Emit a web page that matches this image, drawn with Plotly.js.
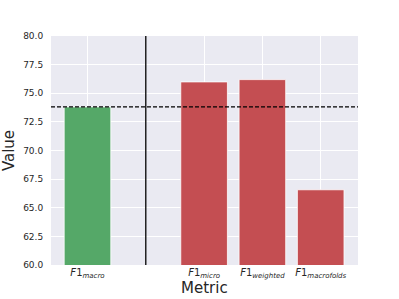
<!DOCTYPE html>
<html>
<head>
<script src="https://cdn.plot.ly/plotly-3.0.1.min.js"></script>
<style>html,body{margin:0;padding:0;background:#fff;}</style>
</head>
<body>
<div id="chart" style="width:399px;height:299px;"></div>
<script>
const positions = [0, 2, 3, 4];
const values = [73.81, 75.99, 76.19, 66.57];
const barColors = ['#55A868', '#C44E52', '#C44E52', '#C44E52'];
const tickLabels = [
  '<i>F</i>1<sub><i>macro</i></sub>',
  '<i>F</i>1<sub><i>micro</i></sub>',
  '<i>F</i>1<sub><i>weighted</i></sub>',
  '<i>F</i>1<sub><i>macrofolds</i></sub>'
];
const refValue = 73.81;
const dividerPos = 1;

const trace = {
  type: 'bar',
  x: positions,
  y: values,
  width: 0.8,
  marker: {color: barColors, line: {color: '#ffffff', width: 0.8}},
  hoverinfo: 'none'
};

const layout = {
  width: 399, height: 299,
  margin: {l: 51, r: 41, t: 36, b: 34},
  paper_bgcolor: '#ffffff',
  plot_bgcolor: '#EAEAF2',
  showlegend: false,
  font: {family: 'DejaVu Sans', color: '#262626'},
  xaxis: {
    range: [-0.626, 4.64],
    tickvals: [0, 1, 2, 3, 4],
    ticktext: [tickLabels[0], '', tickLabels[1], tickLabels[2], tickLabels[3]],
    tickfont: {size: 10},
    showgrid: true, gridcolor: '#ffffff', gridwidth: 1,
    zeroline: false, ticks: '',
    automargin: false
  },
  yaxis: {
    range: [60, 80],
    tickvals: [60, 62.5, 65, 67.5, 70, 72.5, 75, 77.5, 80],
    ticktext: ['60.0','62.5','65.0','67.5','70.0','72.5','75.0','77.5','80.0'],
    tickfont: {size: 9},
    showgrid: true, gridcolor: '#ffffff', gridwidth: 1,
    zeroline: false, ticks: 'outside', ticklen: 5, tickcolor: 'rgba(0,0,0,0)',
    title: {text: 'Value', font: {size: 15}, standoff: 6}
  },
  annotations: [
    {text: 'Metric', xref: 'paper', yref: 'paper', x: 0.5, y: 0,
     xanchor: 'center', yanchor: 'bottom', yshift: -33, borderpad: 0, showarrow: false,
     font: {size: 15, color: '#262626'}}
  ],
  shapes: [
    {type: 'line', xref: 'paper', x0: 0, x1: 1, yref: 'y', y0: refValue, y1: refValue,
     line: {color: '#000000', width: 1.2, dash: '4px,2px'}},
    {type: 'line', xref: 'x', x0: dividerPos, x1: dividerPos, yref: 'paper', y0: 0, y1: 1,
     line: {color: '#000000', width: 1.3}}
  ]
};

Plotly.newPlot('chart', [trace], layout, {displayModeBar: false, staticPlot: true});
</script>
</body>
</html>
